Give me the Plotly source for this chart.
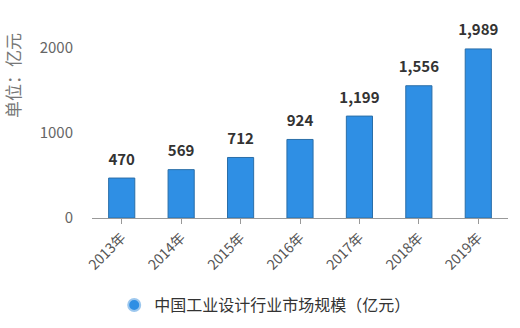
import plotly.graph_objects as go

years = ["2013年", "2014年", "2015年", "2016年", "2017年", "2018年", "2019年"]
values = [470, 569, 712, 924, 1199, 1556, 1989]
series_name = "中国工业设计行业市场规模（亿元）"
y_ticks = [0, 1000, 2000]

FONT = "Noto Sans CJK SC"
BLUE = "#2f8fe4"

fig = go.Figure()
fig.add_trace(go.Bar(
    x=years, y=values,
    marker=dict(color=BLUE, line=dict(color="#2a6ea8", width=1)),
    showlegend=False, hoverinfo="x+y",
))
fig.add_trace(go.Scatter(
    x=years, y=values, mode="markers+text",
    marker=dict(size=14, opacity=0),
    text=[f"{v:,}" for v in values], textposition="top center",
    textfont=dict(family=FONT, size=15, color="#333333", weight="bold"),
    cliponaxis=False, showlegend=False, hoverinfo="skip",
))
fig.add_trace(go.Scatter(
    x=[None], y=[None], mode="markers", name=series_name,
    marker=dict(symbol="circle", size=12, color=BLUE, line=dict(color="#9cc7ee", width=2)),
))

fig.update_layout(
    width=520, height=328,
    margin=dict(l=92, r=12, t=31, b=110, autoexpand=False),
    paper_bgcolor="white", plot_bgcolor="white",
    bargap=0.56,
    font=dict(family=FONT, color="#555555"),
    legend=dict(orientation="h", xref="container", yref="container",
                x=0.51, xanchor="center", y=0.07, yanchor="middle",
                font=dict(family=FONT, size=16, color="#333333"),
                itemwidth=30),
    xaxis=dict(
        showline=True, linecolor="#999999", linewidth=1,
        ticks="outside", ticklen=5, tickcolor="#999999",
        tickangle=-45, tickfont=dict(family=FONT, size=14, color="#555555"),
        showgrid=False, automargin=False,
    ),
    yaxis=dict(
        range=[0, 2200], tickvals=y_ticks, showgrid=False, zeroline=False,
        showline=False, ticks="", ticklabelstandoff=18, automargin=False,
        tickfont=dict(family=FONT, size=15, color="#666666"),
    ),
    annotations=[dict(
        text="单位：亿元", xref="paper", yref="paper", x=-0.19, y=0.765,
        xanchor="center", yanchor="middle", textangle=-90, showarrow=False,
        font=dict(family=FONT, size=17, color="#777777"),
    )],
)

fig.write_html("out.html")
